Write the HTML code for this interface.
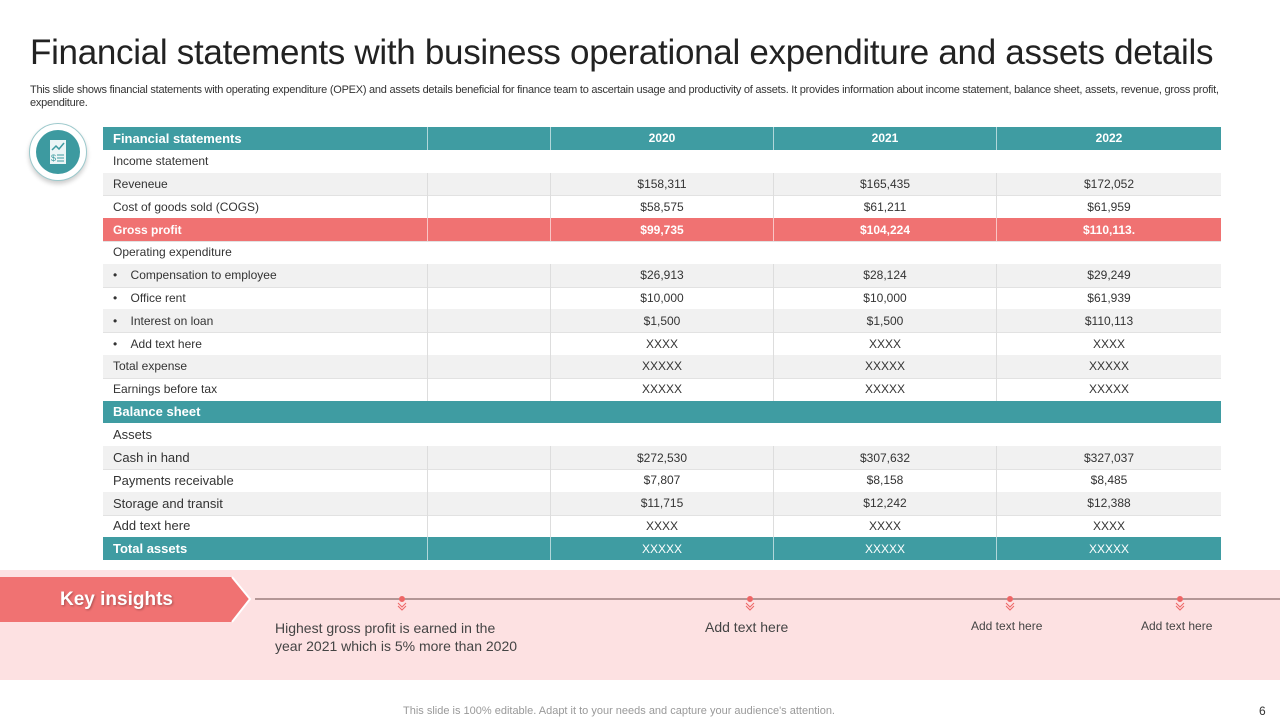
<!DOCTYPE html>
<html><head><meta charset="utf-8"><style>
body{margin:0;width:1280px;height:720px;background:#fff;font-family:"Liberation Sans",sans-serif;position:relative;overflow:hidden}
.abs{position:absolute}
#tbl{position:absolute;left:103px;top:127px;width:1118px}
.row{position:absolute;left:0;width:1118px;height:22.8px;font-size:12px;color:#333;border-bottom:1px solid #e2e2e2}
.cell{position:absolute;top:0;height:100%;display:flex;align-items:center;box-sizing:border-box}
.c0{left:0;width:324px;padding-left:10px}
.vc{justify-content:center}
.div{border-left:1px solid #ddd}
</style></head><body>
<div class="abs" style="left:30px;top:33px;font-size:35px;color:#222;letter-spacing:-0.3px;white-space:nowrap">Financial statements with business operational expenditure and assets details</div>
<div class="abs" style="left:30px;top:84px;width:1225px;font-size:11px;color:#333;line-height:13px;letter-spacing:-0.25px">This slide shows financial statements with operating expenditure (OPEX) and assets details beneficial for finance team to ascertain usage and productivity of assets. It provides information about income statement, balance sheet, assets, revenue, gross profit, expenditure.</div>
<div class="abs" style="left:29px;top:123px;width:56px;height:56px;border-radius:50%;border:1px solid #9cc9cc;box-shadow:0 3px 5px rgba(0,0,0,0.2);background:#fff">
<div style="position:absolute;left:6px;top:6px;width:44px;height:44px;border-radius:50%;background:#3d9aa0">
<svg width="44" height="44" viewBox="0 0 44 44"><rect x="14" y="10" width="16" height="24" fill="#fff" opacity="0.9"/><polyline points="16,20 20,16 23,19 28,13" fill="none" stroke="#3d9aa0" stroke-width="1.5"/><text x="15" y="31" font-size="9" fill="#3d9aa0" font-family="Liberation Sans">$</text><line x1="21" y1="25" x2="28" y2="25" stroke="#3d9aa0"/><line x1="21" y1="28" x2="28" y2="28" stroke="#3d9aa0"/><line x1="21" y1="31" x2="28" y2="31" stroke="#3d9aa0"/></svg></div></div>
<div id="tbl"></div>

<div class="abs" style="left:0;top:570px;width:1280px;height:110px;background:#fde1e2"></div>
<svg class="abs" style="left:0;top:570px" width="1280" height="110">
<polygon points="0,7 232,7 250,29 232,52 0,52" fill="#f07272"/>
<polyline points="232,7 250,29 232,52" fill="none" stroke="#fff" stroke-width="2"/>
<line x1="255" y1="29" x2="1280" y2="29" stroke="#6a4a4a" stroke-width="1"/>
<g fill="none" stroke="#e66">
<circle cx="402" cy="29" r="2.5" fill="#e66"/><polyline points="398,33 402,37 406,33"/><polyline points="398,36 402,40 406,36"/>
<circle cx="750" cy="29" r="2.5" fill="#e66"/><polyline points="746,33 750,37 754,33"/><polyline points="746,36 750,40 754,36"/>
<circle cx="1010" cy="29" r="2.5" fill="#e66"/><polyline points="1006,33 1010,37 1014,33"/><polyline points="1006,36 1010,40 1014,36"/>
<circle cx="1180" cy="29" r="2.5" fill="#e66"/><polyline points="1176,33 1180,37 1184,33"/><polyline points="1176,36 1180,40 1184,36"/>
</g></svg>
<div class="abs" style="left:60px;top:589px;font-size:19px;font-weight:bold;color:#fff;text-shadow:1px 1px 2px rgba(0,0,0,0.3)">Key insights</div>
<div class="abs" style="left:275px;top:619px;font-size:14px;color:#444;line-height:18px">Highest gross profit is earned in the<br>year 2021 which is 5% more than 2020</div>
<div class="abs" style="left:705px;top:619px;font-size:14px;color:#444">Add text here</div>
<div class="abs" style="left:971px;top:619px;font-size:12px;color:#444">Add text here</div>
<div class="abs" style="left:1141px;top:619px;font-size:12px;color:#444">Add text here</div>
<div class="abs" style="left:403px;top:705px;font-size:11px;color:#999">This slide is 100% editable. Adapt it to your needs and capture your audience's attention.</div>
<div class="abs" style="left:1259px;top:704px;font-size:12px;color:#333">6</div>
<script>
const labels=["Financial statements","Income statement","Reveneue","Cost of goods sold (COGS)","Gross profit","Operating expenditure","Compensation to employee","Office rent","Interest on loan","Add text here","Total expense","Earnings before tax","Balance sheet","Assets","Cash in hand","Payments receivable","Storage and transit","Add text here","Total assets"];
const v2020=["2020","","$158,311","$58,575","$99,735","","$26,913","$10,000","$1,500","XXXX","XXXXX","XXXXX","","","$272,530","$7,807","$11,715","XXXX","XXXXX"];
const v2021=["2021","","$165,435","$61,211","$104,224","","$28,124","$10,000","$1,500","XXXX","XXXXX","XXXXX","","","$307,632","$8,158","$12,242","XXXX","XXXXX"];
const v2022=["2022","","$172,052","$61,959","$110,113.","","$29,249","$61,939","$110,113","XXXX","XXXXX","XXXXX","","","$327,037","$8,485","$12,388","XXXX","XXXXX"];
const types=["teal","plain","gray","white","red","plain","gray","white","gray","white","gray","white","teal","plain","gray","white","gray","white","teal"];
const bullets=[6,7,8,9];
const tbl=document.getElementById('tbl');
const cols=[[324,123],[447,223],[670,223],[893,225]];
labels.forEach((lab,i)=>{
 const r=document.createElement('div');r.className='row';
 
 
 r.style.top=(i*22.8)+'px';
 const t=types[i];
 if(t==='teal'){r.style.background='#3f9ca2';r.style.color='#fff';r.style.fontWeight='bold';r.style.fontSize='13px';r.style.borderBottom='1px solid #fff'}
 else if(t==='red'){r.style.background='#f07272';r.style.color='#fff';r.style.fontWeight='bold'}
 else if(t==='gray'){r.style.background='#f1f1f1'}
 const c=document.createElement('div');c.className='cell c0';
 
 
 if(i>=13 && t!=='teal') c.style.fontSize='13px';
 c.textContent=(bullets.includes(i)?'•\u00a0\u00a0\u00a0\u00a0':'')+lab;
 r.appendChild(c);
 const spans=(t==='plain'||i===12);
 if(!spans){
  const vals=[null,v2020[i],v2021[i],v2022[i]];
  cols.forEach((cc,k)=>{
   const d=document.createElement('div');d.className='cell vc div';
   
   
   d.style.left=cc[0]+'px';d.style.width=cc[1]+'px';
   d.style.fontSize='12px';
   if(t==='teal'||t==='red')d.style.borderLeft='1px solid rgba(255,255,255,0.6)';
   if(i===18){d.style.fontWeight='normal'}
   d.textContent=vals[k]||'';
   r.appendChild(d);
  });
 }
 tbl.appendChild(r);
});
</script>
</body></html>
